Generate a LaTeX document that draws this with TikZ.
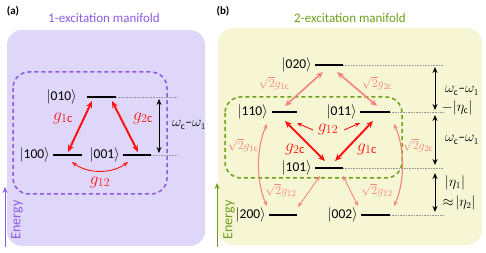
\documentclass[tikz,border=0pt]{standalone}
\usepackage{fontspec}
\setmainfont{Carlito}
\usetikzlibrary{arrows.meta}
\definecolor{purpfill}{RGB}{223,215,249}
\definecolor{purp}{RGB}{140,90,230}
\definecolor{greenfill}{RGB}{246,246,212}
\definecolor{grn}{RGB}{110,160,25}
\definecolor{myred}{RGB}{255,20,20}
\definecolor{salmon}{RGB}{246,132,122}
\definecolor{dotgray}{RGB}{150,150,150}
\tikzset{
  lvl/.style={line width=2pt},
  dotl/.style={dotgray, line width=0.6pt, dash pattern=on 0.8pt off 0.8pt},
  ket/.style={anchor=east, font=\fontsize{13.5}{15}\selectfont, inner sep=0pt},
  bigred/.style={myred, line width=2pt, {Stealth[length=7pt,width=6pt]}-{Stealth[length=7pt,width=6pt]}},
  thinred/.style={myred, line width=0.9pt, {Stealth[length=5pt,width=4pt]}-{Stealth[length=5pt,width=4pt]}},
  thinredone/.style={myred, line width=0.9pt, -{Stealth[length=5pt,width=4pt]}},
  salbig/.style={salmon, line width=1.6pt, {Stealth[length=7pt,width=6pt]}-{Stealth[length=7pt,width=6pt]}},
  salthin/.style={salmon, line width=0.9pt, {Stealth[length=5pt,width=4pt]}-{Stealth[length=5pt,width=4pt]}},
  blk/.style={black, line width=1pt, {Stealth[length=6pt,width=5pt]}-{Stealth[length=6pt,width=5pt]}},
  glab/.style={myred, font=\fontsize{18}{20}\selectfont, inner sep=0pt},
  slab/.style={salmon, font=\fontsize{13}{15}\selectfont, inner sep=0pt},
  wlab/.style={font=\fontsize{13.5}{15}\selectfont, inner sep=0pt},
  ttl/.style={font=\fontsize{13}{15}\selectfont, inner sep=0pt},
  plab/.style={font=\fontsize{11}{13}\selectfont\bfseries, inner sep=0pt},
  enl/.style={rotate=90, font=\fontsize{14}{16}\selectfont, inner sep=0pt},
}
\begin{document}
\begin{tikzpicture}[x=1pt,y=-1pt]
\useasboundingbox (0,0) rectangle (486,253);
% ================= panel a =================
\node[plab] (pa) at (13,11) {(a)};
\node[ttl, text=purp] (ta) at (104,18) {1-excitation manifold};
\fill[purpfill, rounded corners=15pt] (7,30) rectangle (205,246);
\draw[purp, line width=1.5pt, dash pattern=on 4pt off 3pt, rounded corners=16pt] (13,72) rectangle (167,194);
% levels
\coordinate (a010l) at (87,97);  \coordinate (a010r) at (116,97);
\coordinate (a100l) at (53,155); \coordinate (a100r) at (82,155);
\coordinate (a001l) at (123,155);\coordinate (a001r) at (151,155);
\draw[lvl] (a010l) -- (a010r);
\draw[lvl] (a100l) -- (a100r);
\draw[lvl] (a001l) -- (a001r);
\coordinate (ad1) at (178,97); \coordinate (ad2) at (178,155);
\draw[dotl] (a010r) -- (ad1);
\draw[dotl] (a001r) -- (ad2);
\node[ket] (k010) at (77,97) {$|$010$\rangle$};
\node[ket] (k100) at (50,155) {$|$100$\rangle$};
\node[ket] (k001) at (120,155) {$|$001$\rangle$};
% arrows
\coordinate (aw1) at (159,99); \coordinate (aw2) at (159,153);
\draw[blk] (aw1) -- (aw2);
\node[wlab] (aw) at (189,125) {$\omega_{\mathrm{c}}$–$\omega_1$};
\coordinate (ar1a) at (92,101); \coordinate (ar1b) at (68,152);
\coordinate (ar2a) at (112,101); \coordinate (ar2b) at (138,152);
\draw[bigred] (ar1a) -- (ar1b);
\draw[bigred] (ar2a) -- (ar2b);
\node[glab] (g1c) at (63,118) {$g_{1\mathrm{c}}$};
\node[glab] (g2c) at (143,118) {$g_{2\mathrm{c}}$};
\coordinate (ac1) at (72,162); \coordinate (ac2) at (128,162);
\draw[thinred] (ac1) .. controls (88,174) and (112,174) .. (ac2);
\node[glab] (g12) at (100,182) {$g_{12}$};
% energy
\coordinate (ae1) at (5,247); \coordinate (ae2) at (5,187);
\draw[purp, line width=1pt, -{Stealth[length=6pt,width=5pt]}] (ae1) -- (ae2);
\node[purp, enl] (ea) at (17,220) {Energy};
% ================= panel b =================
\node[plab] (pb) at (223,11) {(b)};
\node[ttl, text=grn] (tb) at (350,18) {2-excitation manifold};
\fill[greenfill, rounded corners=15pt] (218,28) rectangle (482,245);
\draw[grn, line width=1.5pt, dash pattern=on 4pt off 3pt, rounded corners=16pt] (225,97) rectangle (402,178);
% levels
\coordinate (b020l) at (315,65);  \coordinate (b020r) at (343,65);
\coordinate (b110l) at (272,112); \coordinate (b110r) at (297,112);
\coordinate (b011l) at (360,112); \coordinate (b011r) at (390,112);
\coordinate (b101l) at (315,168); \coordinate (b101r) at (343,168);
\coordinate (b200l) at (269,215); \coordinate (b200r) at (297,215);
\coordinate (b002l) at (361,215); \coordinate (b002r) at (390,215);
\foreach \s in {020,110,011,101,200,002} \draw[lvl] (b\s l) -- (b\s r);
\coordinate (bd1) at (443,65);  \coordinate (bd2) at (443,112);
\coordinate (bd3) at (443,168); \coordinate (bd4) at (443,215);
\draw[dotl] (b020r) -- (bd1);
\draw[dotl] (b011r) -- (bd2);
\draw[dotl] (b101r) -- (bd3);
\draw[dotl] (b002r) -- (bd4);
\node[ket] (k020) at (312,65) {$|$020$\rangle$};
\node[ket] (k110) at (268,112) {$|$110$\rangle$};
\node[ket] (k011) at (357,112) {$|$011$\rangle$};
\node[ket] (k101) at (312,168) {$|$101$\rangle$};
\node[ket] (k200) at (266,215) {$|$200$\rangle$};
\node[ket] (k002) at (358,215) {$|$002$\rangle$};
% black arrows
\coordinate (bw1) at (435,67);  \coordinate (bw2) at (435,110);
\coordinate (bw3) at (435,115); \coordinate (bw4) at (435,165);
\coordinate (bw5) at (435,173); \coordinate (bw6) at (435,212);
\draw[blk] (bw1) -- (bw2);
\draw[blk] (bw3) -- (bw4);
\draw[blk] (bw5) -- (bw6);
\node[wlab] (bwl1) at (462,91) {$\omega_{\mathrm{c}}$–$\omega_1$};
\node[wlab] (bwl2) at (457,108) {$-|\eta_{\mathrm{c}}|$};
\node[wlab] (bwl3) at (462,140) {$\omega_{\mathrm{c}}$–$\omega_1$};
\node[wlab] (bwl4) at (455,183) {$|\eta_1|$};
\node[wlab] (bwl5) at (459,203) {$\approx\!|\eta_2|$};
% salmon arrows from 020
\coordinate (s1a) at (323,72); \coordinate (s1b) at (285,106);
\coordinate (s2a) at (337,72); \coordinate (s2b) at (377,106);
\draw[salbig] (s1a) -- (s1b);
\draw[salbig] (s2a) -- (s2b);
\node[slab] (sl1) at (274,83) {$\sqrt{2}g_{1\mathrm{c}}$};
\node[slab] (sl2) at (377,83) {$\sqrt{2}g_{2\mathrm{c}}$};
% outer curves
\coordinate (c1a) at (267,124); \coordinate (c1b) at (267,206);
\coordinate (c2a) at (394,124); \coordinate (c2b) at (394,206);
\draw[salthin, line width=1.1pt] (c1a) .. controls (256,148) and (256,182) .. (c1b);
\draw[salthin, line width=1.1pt] (c2a) .. controls (405,148) and (405,182) .. (c2b);
\node[slab] (sl3) at (243,145) {$\sqrt{2}g_{1\mathrm{c}}$};
\node[slab] (sl4) at (418,145) {$\sqrt{2}g_{2\mathrm{c}}$};
% thin from 101
\coordinate (t1a) at (320,176); \coordinate (t1b) at (298,207);
\coordinate (t2a) at (343,176); \coordinate (t2b) at (358,206);
\draw[salthin] (t1a) -- (t1b);
\draw[salthin] (t2a) -- (t2b);
\node[slab] (sl5) at (281,190) {$\sqrt{2}g_{12}$};
\node[slab] (sl6) at (377,190) {$\sqrt{2}g_{12}$};
% red thick
\coordinate (r1a) at (285,121); \coordinate (r1b) at (325,161);
\coordinate (r2a) at (373,121); \coordinate (r2b) at (335,161);
\draw[bigred] (r1a) -- (r1b);
\draw[bigred] (r2a) -- (r2b);
\node[glab] (bg2c) at (295,149) {$g_{2\mathrm{c}}$};
\node[glab] (bg1c) at (367,149) {$g_{1\mathrm{c}}$};
\node[glab] (bg12) at (328,129) {$g_{12}$};
\coordinate (u1a) at (313,130); \coordinate (u1b) at (297,123);
\coordinate (u2a) at (344,130); \coordinate (u2b) at (360,123);
\draw[thinredone] (u1a) -- (u1b);
\draw[thinredone] (u2a) -- (u2b);
% energy
\coordinate (be1) at (217,247); \coordinate (be2) at (217,183);
\draw[grn, line width=1pt, -{Stealth[length=6pt,width=5pt]}] (be1) -- (be2);
\node[grn, enl] (eb) at (229,220) {Energy};
\end{tikzpicture}
\end{document}
